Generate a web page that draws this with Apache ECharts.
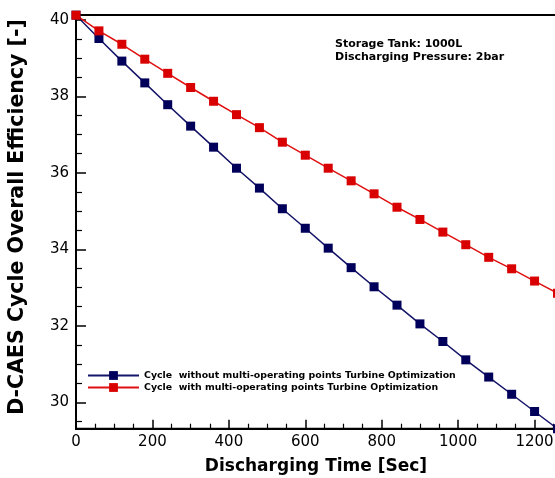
<!DOCTYPE html>
<html>
<head>
<meta charset="utf-8">
<script src="https://cdn.jsdelivr.net/npm/echarts@6/dist/echarts.min.js"></script>
<style>
  html, body { margin: 0; padding: 0; background: #fff; }
  #chart { width: 555px; height: 478px; }
</style>
</head>
<body>
<div id="chart"></div>
<script>
// Discharging time samples [s]
const times = [0, 60, 120, 180, 240, 300, 360, 420, 480, 540, 600,
               660, 720, 780, 840, 900, 960, 1020, 1080, 1140, 1200, 1260];

// Overall cycle efficiency [-], without multi-operating-point turbine optimization
const effWithout = [40.12, 39.51, 38.92, 38.35, 37.78, 37.22, 36.67, 36.12, 35.60, 35.06, 34.55,
                    34.03, 33.52, 33.02, 32.54, 32.05, 31.59, 31.11, 30.66, 30.21, 29.76, 29.31];

// Overall cycle efficiency [-], with multi-operating-point turbine optimization
const effWith = [40.12, 39.71, 39.36, 38.97, 38.60, 38.23, 37.87, 37.52, 37.18, 36.80, 36.46,
                 36.12, 35.79, 35.45, 35.10, 34.78, 34.45, 34.12, 33.79, 33.49, 33.17, 32.85];

const seriesNames = [
  'Cycle  without multi-operating points Turbine Optimization',
  'Cycle  with multi-operating points Turbine Optimization'
];

// Axis ticks
const yMajorTicks = [30, 32, 34, 36, 38, 40];
const yMinorTicks = [29.5, 30.5, 31, 31.5, 32.5, 33, 33.5, 34.5, 35, 35.5,
                     36.5, 37, 37.5, 38.5, 39, 39.5];
const xTickStep = 200;

const infoLines = ['Storage Tank: 1000L', 'Discharging Pressure: 2bar'];
const xTitle = 'Discharging Time [Sec]';
const yTitle = 'D-CAES Cycle Overall Efficiency [-]';

const pairs = vals => times.map((t, i) => [t, vals[i]]);

const chart = echarts.init(document.getElementById('chart'), null, { renderer: 'canvas' });

const Y_MIN = 29.31, Y_MAX = 40.125;
const BLUE = '#00005a', RED = '#d80000';
const tickFont = { fontFamily: 'DejaVu Sans', fontSize: 15, color: '#000' };

chart.setOption({
  animation: false,
  backgroundColor: '#fff',
  grid: {
    left: 76, top: 15, right: -56, bottom: 49.3,
    containLabel: false, outerBoundsMode: 'none',
    show: true, borderColor: '#000', borderWidth: 2
  },
  legend: {
    orient: 'vertical',
    left: 82, top: 366,
    itemWidth: 51, itemHeight: 11, itemGap: 3,
    textStyle: { fontFamily: 'DejaVu Sans', fontWeight: 'bold', fontSize: 9.4, color: '#000', padding: [0, 0, 0, 0] },
    data: seriesNames
  },
  xAxis: {
    type: 'value', min: 0, max: 1400, interval: xTickStep,
    axisLine: { lineStyle: { color: '#000', width: 2 } },
    axisTick: { inside: true, length: 9, lineStyle: { color: '#000', width: 1.5 } },
    minorTick: { show: true, splitNumber: 4, length: 5, lineStyle: { color: '#000', width: 1.2 } },
    axisLabel: Object.assign({ margin: 6, formatter: v => String(v) }, tickFont),
    splitLine: { show: false }
  },
  yAxis: [
    {
      type: 'value', min: Y_MIN, max: Y_MAX,
      axisLine: { show: true, lineStyle: { color: '#000', width: 2 } },
      axisTick: { inside: true, length: 10, customValues: yMajorTicks, lineStyle: { color: '#000', width: 1.5 } },
      axisLabel: Object.assign({ margin: 7, customValues: yMajorTicks, formatter: v => String(v) }, tickFont),
      splitLine: { show: false }
    },
    {
      type: 'value', min: Y_MIN, max: Y_MAX, position: 'left',
      axisLine: { show: false },
      axisTick: { show: true, inside: true, length: 6, customValues: yMinorTicks, lineStyle: { color: '#000', width: 1.2 } },
      axisLabel: { show: false },
      splitLine: { show: false }
    }
  ],
  series: [
    {
      name: seriesNames[0], type: 'line', data: pairs(effWithout),
      symbol: 'rect', symbolSize: 9,
      lineStyle: { color: '#141468', width: 1.5 },
      itemStyle: { color: BLUE }
    },
    {
      name: seriesNames[1], type: 'line', data: pairs(effWith),
      symbol: 'rect', symbolSize: 9,
      lineStyle: { color: '#e01010', width: 1.5 },
      itemStyle: { color: RED }
    }
  ],
  graphic: [
    {
      type: 'text', left: 335, top: 38,
      style: {
        text: infoLines.join('\n'), fontFamily: 'DejaVu Sans', fontWeight: 'bold',
        fontSize: 11, lineHeight: 13, fill: '#000'
      }
    },
    {
      type: 'text', x: 316, y: 467,
      style: {
        text: xTitle, fontFamily: 'DejaVu Sans', fontWeight: 'bold', fontSize: 17,
        fill: '#000', align: 'center', verticalAlign: 'middle'
      }
    },
    {
      type: 'text', x: 18, y: 217, rotation: Math.PI / 2,
      style: {
        text: yTitle, fontFamily: 'DejaVu Sans', fontWeight: 'bold', fontSize: 20.5,
        fill: '#000', align: 'center', verticalAlign: 'middle'
      }
    }
  ]
});
</script>
</body>
</html>
